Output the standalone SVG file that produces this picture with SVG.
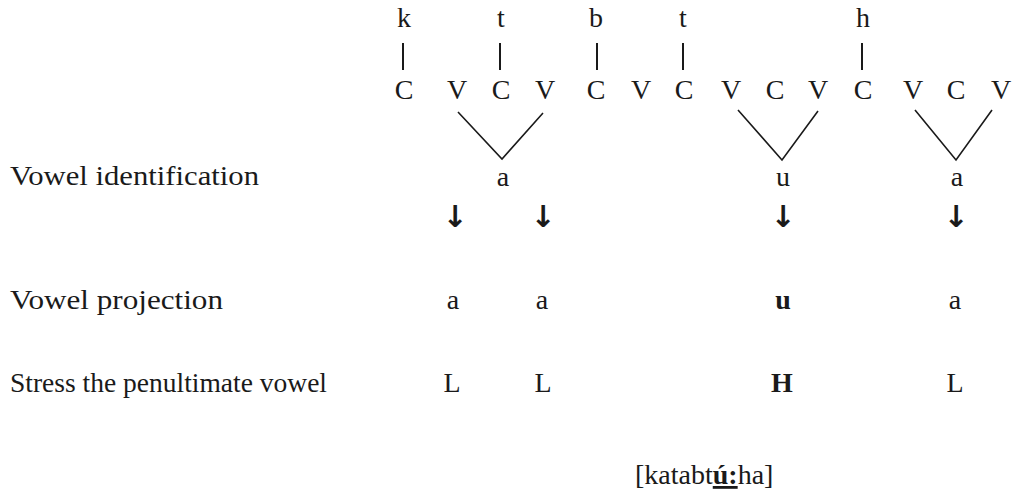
<svg xmlns="http://www.w3.org/2000/svg" width="1016" height="497" viewBox="0 0 1016 497">
<style>
  text { font-family: "Liberation Serif", "DejaVu Serif", serif; font-size: 28px; fill: #1a1a1a; }
  .m { text-anchor: middle; }
  .b { font-weight: bold; }
  .arr { font-family: "DejaVu Sans", sans-serif; font-size: 30px; font-weight: bold; text-anchor: middle; fill: #1a1a1a; }
  .bar { stroke: #1a1a1a; stroke-width: 2; }
  .ln { stroke: #1a1a1a; stroke-width: 1.6; fill: none; }
</style>
<rect width="1016" height="497" fill="#fff"/>
<g id="root-consonants">
  <text class="m" x="404" y="27">k</text>
  <text class="m" x="501" y="27">t</text>
  <text class="m" x="596" y="27">b</text>
  <text class="m" x="683" y="27">t</text>
  <text class="m" x="863" y="27">h</text>
</g>
<g id="skeleton">
  <text class="m" x="404" y="99">C</text>
  <text class="m" x="457" y="99">V</text>
  <text class="m" x="501" y="99">C</text>
  <text class="m" x="545" y="99">V</text>
  <text class="m" x="596" y="99">C</text>
  <text class="m" x="641" y="99">V</text>
  <text class="m" x="684" y="99">C</text>
  <text class="m" x="731" y="99">V</text>
  <text class="m" x="775" y="99">C</text>
  <text class="m" x="818" y="99">V</text>
  <text class="m" x="863" y="99">C</text>
  <text class="m" x="913" y="99">V</text>
  <text class="m" x="956" y="99">C</text>
  <text class="m" x="1001" y="99">V</text>
</g>
<g id="connectors">
  <line class="bar" x1="403" y1="43" x2="403" y2="70"/>
  <line class="bar" x1="500" y1="43" x2="500" y2="70"/>
  <line class="bar" x1="597" y1="43" x2="597" y2="70"/>
  <line class="bar" x1="683" y1="43" x2="683" y2="70"/>
  <line class="bar" x1="862" y1="43" x2="862" y2="70"/>
  <polyline class="ln" points="458,112 502,159 543,113"/>
  <polyline class="ln" points="738,110 782,160 818,111"/>
  <polyline class="ln" points="915,110 956,160 992,110"/>
</g>
<g id="row-identification">
  <text x="10" y="185" textLength="249" lengthAdjust="spacingAndGlyphs">Vowel identification</text>
  <text class="m" x="503" y="186">a</text>
  <text class="m" x="783" y="186">u</text>
  <text class="m" x="957" y="186">a</text>
</g>
<g id="arrows">
  <text class="arr" x="455" y="227">↓</text>
  <text class="arr" x="543" y="227">↓</text>
  <text class="arr" x="783" y="227">↓</text>
  <text class="arr" x="956" y="227">↓</text>
</g>
<g id="row-projection">
  <text x="10" y="309" textLength="213" lengthAdjust="spacingAndGlyphs">Vowel projection</text>
  <text class="m" x="453" y="309">a</text>
  <text class="m" x="542" y="309">a</text>
  <text class="m b" x="783" y="309">u</text>
  <text class="m" x="955" y="309">a</text>
</g>
<g id="row-stress">
  <text x="10" y="392" textLength="317" lengthAdjust="spacingAndGlyphs">Stress the penultimate vowel</text>
  <text class="m" x="452" y="392">L</text>
  <text class="m" x="543" y="392">L</text>
  <text class="m b" x="782" y="392">H</text>
  <text class="m" x="955" y="392">L</text>
</g>
<g id="transcription">
  <text x="635" y="484">[katabt<tspan class="b" text-decoration="underline">ú:</tspan>ha]</text>
</g>
</svg>
